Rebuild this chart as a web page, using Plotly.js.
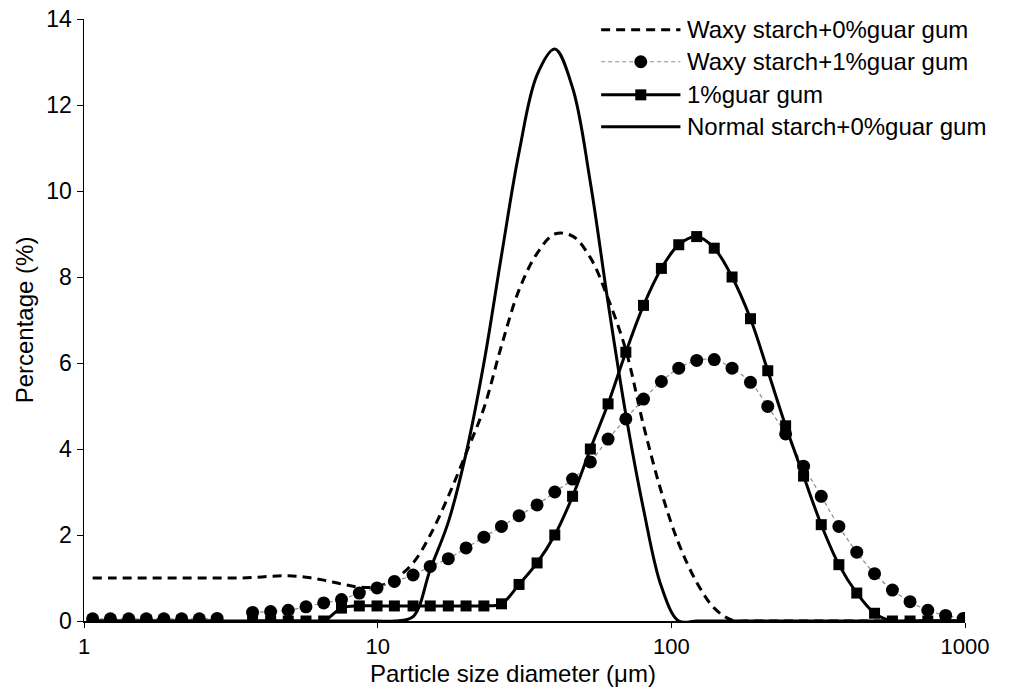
<!DOCTYPE html>
<html>
<head>
<meta charset="utf-8">
<script src="https://cdn.plot.ly/plotly-3.0.1.min.js"></script>
<style>html,body{margin:0;padding:0;background:#fff;}#chart{width:1011px;height:691px;}</style>
</head>
<body>
<div id="chart"></div>
<script>
// particle size classes (µm)
const sizes = [1.07,1.23,1.42,1.63,1.87,2.15,2.47,2.84,3.27,3.75,4.32,4.96,5.70,6.55,7.53,8.66,9.95,11.4,13.2,15.1,17.4,20.0,23.0,26.4,30.3,34.9,40.1,46.1,53.0,60.9,70.0,80.4,92.5,106,122,140,161,186,213,245,282,324,372,428,492,566,650,747,859,987];

const waxy0 = [1.0,1.0,1.0,1.0,1.0,1.0,1.0,1.0,1.0,1.01,1.04,1.05,1.02,0.95,0.86,0.79,0.8,0.97,1.35,2.0,2.9,3.9,4.95,6.4,7.7,8.55,9.0,8.95,8.45,7.5,6.3,4.55,3.0,1.8,0.9,0.3,0.02,0,0,0,0,0,0,0,0,0,0,0,0,0];

const waxy1 = [0.05,0.05,0.05,0.05,0.05,0.05,0.05,0.06,null,0.2,0.22,0.25,0.33,0.42,0.5,0.65,0.77,0.92,1.07,1.27,1.45,1.7,1.95,2.2,2.45,2.7,3.0,3.3,3.7,4.23,4.7,5.16,5.57,5.88,6.06,6.08,5.88,5.55,4.99,4.35,3.6,2.9,2.2,1.6,1.1,0.72,0.45,0.25,0.13,0.06];

const guar1 = [0,0,0,0,0,0,0,0,null,0,0,0,0,0,0.3,0.35,0.35,0.35,0.35,0.35,0.35,0.35,0.35,0.4,0.85,1.35,2.0,2.9,4.0,5.05,6.25,7.34,8.2,8.75,8.94,8.67,8.0,7.03,5.82,4.54,3.37,2.24,1.31,0.65,0.18,0,0,0,0,0];

const normal0 = [0,0,0,0,0,0,0,0,0,0,0,0,0,0,0,0,0,0,0.1,1.2,2.3,3.9,6.0,8.5,10.9,12.7,13.3,12.4,10.2,7.4,4.8,2.6,0.8,0,0,0,0,0,0,0,0,0,0,0,0,0,0,0,0,0];

const seriesNames = ["Waxy starch+0%guar gum","Waxy starch+1%guar gum","1%guar gum","Normal starch+0%guar gum"];
const xTicks = [1,10,100,1000];
const xTickText = ["1","10","100","1000"];
const yTicks = [0,2,4,6,8,10,12,14];
const xTitle = "Particle size diameter (μm)";
const yTitle = "Percentage (%)";

const FONT = "Liberation Sans, Arial, Helvetica, sans-serif";

const traces = [
  {x: sizes, y: normal0, mode: "lines", name: seriesNames[3], showlegend:false,
   line: {color: "#000", width: 3, shape: "spline", smoothing: 1}},
  {x: sizes, y: waxy0, mode: "lines", name: seriesNames[0], showlegend:false,
   line: {color: "#000", width: 3, dash: "9px,6px", shape: "spline", smoothing: 1}},
  {x: sizes, y: waxy1, mode: "lines+markers", name: seriesNames[1], showlegend:false,
   line: {color: "#8a8a8a", width: 1.2, dash: "4px,3px", shape: "spline", smoothing: 1},
   marker: {symbol: "circle", size: 13, color: "#000"}},
  {x: sizes, y: guar1, mode: "lines+markers", name: seriesNames[2], showlegend:false,
   line: {color: "#000", width: 3, shape: "spline", smoothing: 1},
   marker: {symbol: "square", size: 11, color: "#000"}}
];

// custom legend (paper coordinates)
const legX0 = 0.587, legX1 = 0.677, legTx = 0.682;
const legY = [0.982, 0.929, 0.874, 0.821];
const shapes = [
  {type:"line", xref:"paper", yref:"paper", x0:legX0, x1:legX1, y0:legY[0], y1:legY[0], line:{color:"#000", width:3, dash:"9px,6px"}},
  {type:"line", xref:"paper", yref:"paper", x0:legX0, x1:legX1, y0:legY[1], y1:legY[1], line:{color:"#8a8a8a", width:1.2, dash:"4px,3px"}},
  {type:"circle", xref:"paper", yref:"paper", xsizemode:"pixel", ysizemode:"pixel", xanchor:(legX0+legX1)/2, yanchor:legY[1], x0:-6.5, x1:6.5, y0:-6.5, y1:6.5, fillcolor:"#000", line:{color:"#000", width:0}},
  {type:"line", xref:"paper", yref:"paper", x0:legX0, x1:legX1, y0:legY[2], y1:legY[2], line:{color:"#000", width:3}},
  {type:"rect", xref:"paper", yref:"paper", xsizemode:"pixel", ysizemode:"pixel", xanchor:(legX0+legX1)/2, yanchor:legY[2], x0:-5.5, x1:5.5, y0:-5.5, y1:5.5, fillcolor:"#000", line:{color:"#000", width:0}},
  {type:"line", xref:"paper", yref:"paper", x0:legX0, x1:legX1, y0:legY[3], y1:legY[3], line:{color:"#000", width:3}}
];
const annotations = seriesNames.map((n,i)=>({
  xref:"paper", yref:"paper", x:legTx, y:legY[i], xanchor:"left", yanchor:"middle",
  text:n, showarrow:false, font:{family:FONT, size:24, color:"#000"}
}));
// x-axis title placed as text under the axis
annotations.push({
  xref:"paper", yref:"paper", x:0.487, y:-0.087, xanchor:"center", yanchor:"middle",
  text:xTitle, showarrow:false, font:{family:FONT, size:24, color:"#000"}
});

const layout = {
  width: 1011, height: 691,
  margin: {l: 84, r: 46, t: 19, b: 70},
  paper_bgcolor: "#fff", plot_bgcolor: "#fff",
  font: {family: FONT, size: 23, color: "#000"},
  showlegend: false,
  xaxis: {
    type: "log", range: [0, 3], tickvals: xTicks, ticktext: xTickText,
    ticks: "outside", ticklen: 5, tickwidth: 1, tickcolor: "#000",
    showline: true, linecolor: "#000", linewidth: 1.5, showgrid: false, zeroline: false,
    tickfont: {family: FONT, size: 22},
    automargin: false
  },
  yaxis: {
    range: [0, 14], tickvals: yTicks,
    ticks: "outside", ticklen: 6, tickwidth: 1, tickcolor: "#000",
    showline: true, linecolor: "#000", linewidth: 1.5, showgrid: false, zeroline: false,
    tickfont: {family: FONT, size: 23},
    title: {text: yTitle, font: {family: FONT, size: 24}, standoff: 6},
    automargin: false
  },
  shapes: shapes,
  annotations: annotations
};

Plotly.newPlot("chart", traces, layout, {displayModeBar: false, staticPlot: true});
</script>
</body>
</html>
